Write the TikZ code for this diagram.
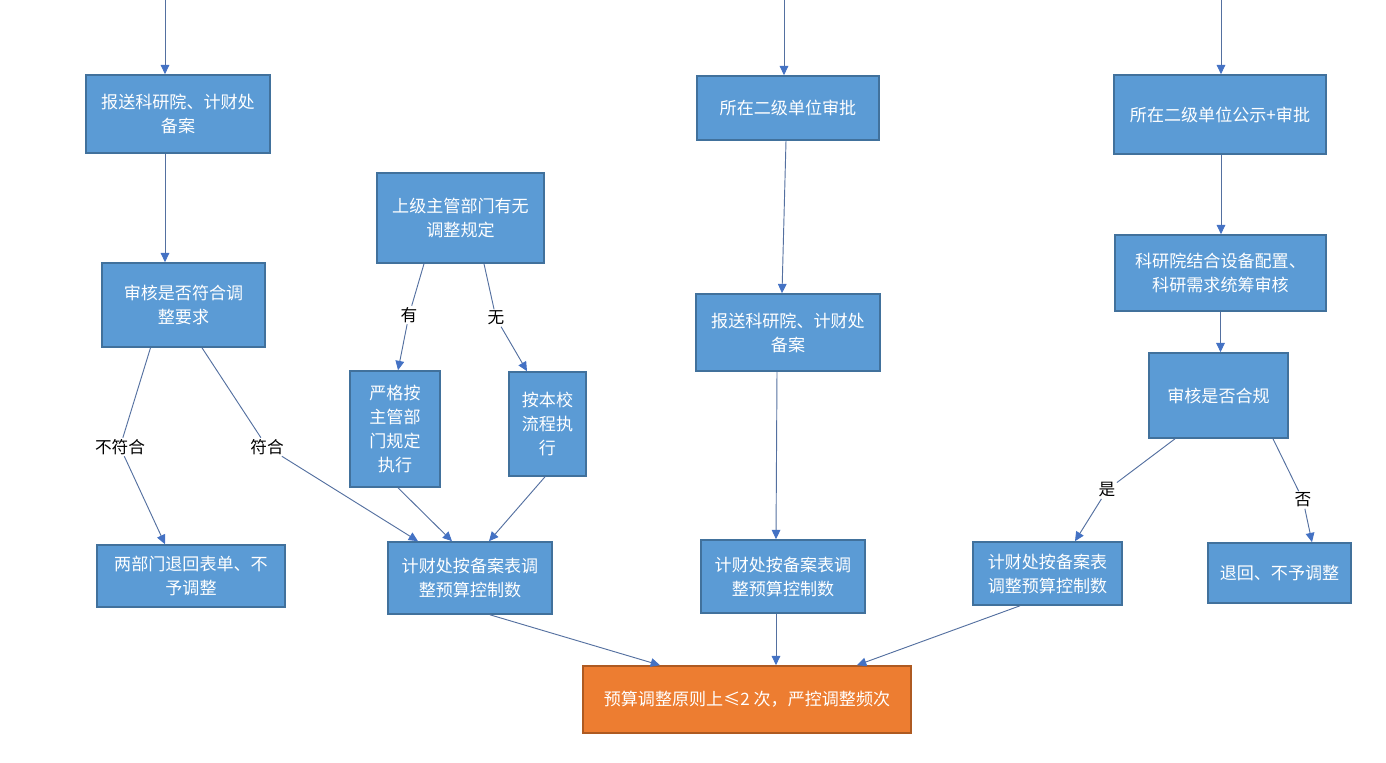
\documentclass[tikz,border=0pt]{standalone}
\usepackage{fontspec}
\newfontfamily\cjk{Noto Sans CJK SC}
\usetikzlibrary{arrows.meta,calc}
\definecolor{boxfill}{RGB}{91,155,213}
\definecolor{boxline}{RGB}{65,113,156}
\definecolor{endfill}{RGB}{237,125,49}
\definecolor{endline}{RGB}{174,90,33}
\definecolor{linkcol}{RGB}{84,112,160}
\definecolor{tipcol}{RGB}{68,114,196}
\begin{document}
\begin{tikzpicture}[x=0.75pt, y=-0.75pt,
    box/.style={draw=boxline, fill=boxfill, line width=1.2pt, text=white, align=center,
        inner sep=0pt, font=\cjk\fontsize{12.8}{18}\selectfont},
    endbox/.style={box, draw=endline, fill=endfill},
    lab/.style={font=\cjk\fontsize{12.5}{18}\selectfont, inner sep=1pt},
    link/.style={draw=linkcol, line width=0.7pt},
    arr/.style={link, -{Triangle[length=7pt,width=6.5pt,color=tipcol]}}]
    \useasboundingbox (0,0) rectangle (1386,763);

    \node[box, minimum width=138pt, minimum height=58.5pt] (b1) at (178,114) {报送科研院、计财处\\备案};
    \node[box, minimum width=122.25pt, minimum height=63pt] (b2) at (183.5,305) {审核是否符合调\\整要求};
    \node[box, minimum width=141pt, minimum height=46.5pt] (b3) at (191,576) {两部门退回表单、不\\予调整};
    \node[box, minimum width=125.25pt, minimum height=67.5pt] (b4) at (460.5,218) {上级主管部门有无\\调整规定};
    \node[box, minimum width=67.5pt, minimum height=87pt] (b5) at (395,429) {严格按\\主管部\\门规定\\执行};
    \node[box, minimum width=57.75pt, minimum height=78pt] (b6) at (547.5,424) {按本校\\流程执\\行};
    \node[box, minimum width=123pt, minimum height=54pt] (b7) at (470,578) {计财处按备案表调\\整预算控制数};
    \node[box, minimum width=136.5pt, minimum height=48pt] (b8) at (788,108) {所在二级单位审批};
    \node[box, minimum width=138pt, minimum height=57.75pt] (b9) at (788,332.5) {报送科研院、计财处\\备案};
    \node[box, minimum width=123pt, minimum height=54.75pt] (b10) at (783,576.5) {计财处按备案表调\\整预算控制数};
    \node[box, minimum width=159pt, minimum height=59.25pt] (b11) at (1220,114.5) {所在二级单位公示+审批};
    \node[box, minimum width=158.25pt, minimum height=57pt] (b12) at (1220.5,273) {科研院结合设备配置、\\科研需求统筹审核};
    \node[box, minimum width=104.25pt, minimum height=63.75pt] (b13) at (1218.5,395.5) {审核是否合规};
    \node[box, minimum width=111.75pt, minimum height=47.25pt] (b14) at (1047.5,573.5) {计财处按备案表\\调整预算控制数};
    \node[box, minimum width=107.25pt, minimum height=45pt] (b15) at (1279.5,573) {退回、不予调整};
    \node[endbox, minimum width=246pt, minimum height=50.25pt] (last) at (747,699.5) {预算调整原则上≤2 次，严控调整频次};

    \node[lab] (no) at (120,447) {不符合};
    \node[lab] (yes) at (267,447) {符合};
    \node[lab] (you) at (409,315) {有};
    \node[lab] (wu) at (496,318) {无};
    \node[lab] (shi) at (1107,490) {是};
    \node[lab] (fou) at (1303,500) {否};

    \coordinate (in1) at (165,0);
    \coordinate (in2) at (784,0);
    \coordinate (in3) at (1221,0);

    \draw[arr] (in1) -- (in1 |- b1.north);
    \draw[arr] (b1.south -| in1) -- (in1 |- b2.north);
    \draw[link] ($(b2.south)+(-33,0)$) -- (no);
    \draw[arr] (no) -- ($(b3.north)+(-26,0)$);
    \draw[link] ($(b2.south)+(18.5,0)$) -- (yes);
    \draw[arr] (yes) -- ($(b7.north)+(-52,0)$);
    \draw[link] ($(b4.south)+(-36.5,0)$) -- (you);
    \draw[arr] (you) -- ($(b5.north)+(3,0)$);
    \draw[link] ($(b4.south)+(23.5,0)$) -- (wu);
    \draw[arr] (wu) -- ($(b6.north)+(-20.5,0)$);
    \draw[arr] ($(b5.south)+(3,0)$) -- ($(b7.north)+(-18,0)$);
    \draw[arr] ($(b6.south)+(-2.5,0)$) -- ($(b7.north)+(19,0)$);

    \draw[arr] (in2) -- (in2 |- b8.north);
    \draw[arr] ($(b8.south)+(-2,0)$) -- ($(b9.north)+(-6,0)$);
    \draw[arr] ($(b9.south)+(-11,0)$) -- ($(b10.north)+(-7,0)$);

    \draw[arr] (in3) -- (in3 |- b11.north);
    \draw[arr] (b11.south -| in3) -- (in3 |- b12.north);
    \draw[arr] (b12.south) -- (b12.south |- b13.north);
    \draw[link] ($(b13.south)+(-43.5,0)$) -- (shi);
    \draw[arr] (shi) -- ($(b14.north)+(27.5,0)$);
    \draw[link] ($(b13.south)+(54.5,0)$) -- (fou);
    \draw[arr] (fou) -- ($(b15.north)+(32.5,0)$);

    \draw[arr] ($(b7.south)+(20,0)$) -- ($(last.north)+(-87,0)$);
    \draw[arr] ($(b10.south)+(-7,0)$) -- ($(last.north)+(29,0)$);
    \draw[arr] ($(b14.south)+(-27.5,0)$) -- ($(last.north)+(110,0)$);
\end{tikzpicture}
\end{document}
